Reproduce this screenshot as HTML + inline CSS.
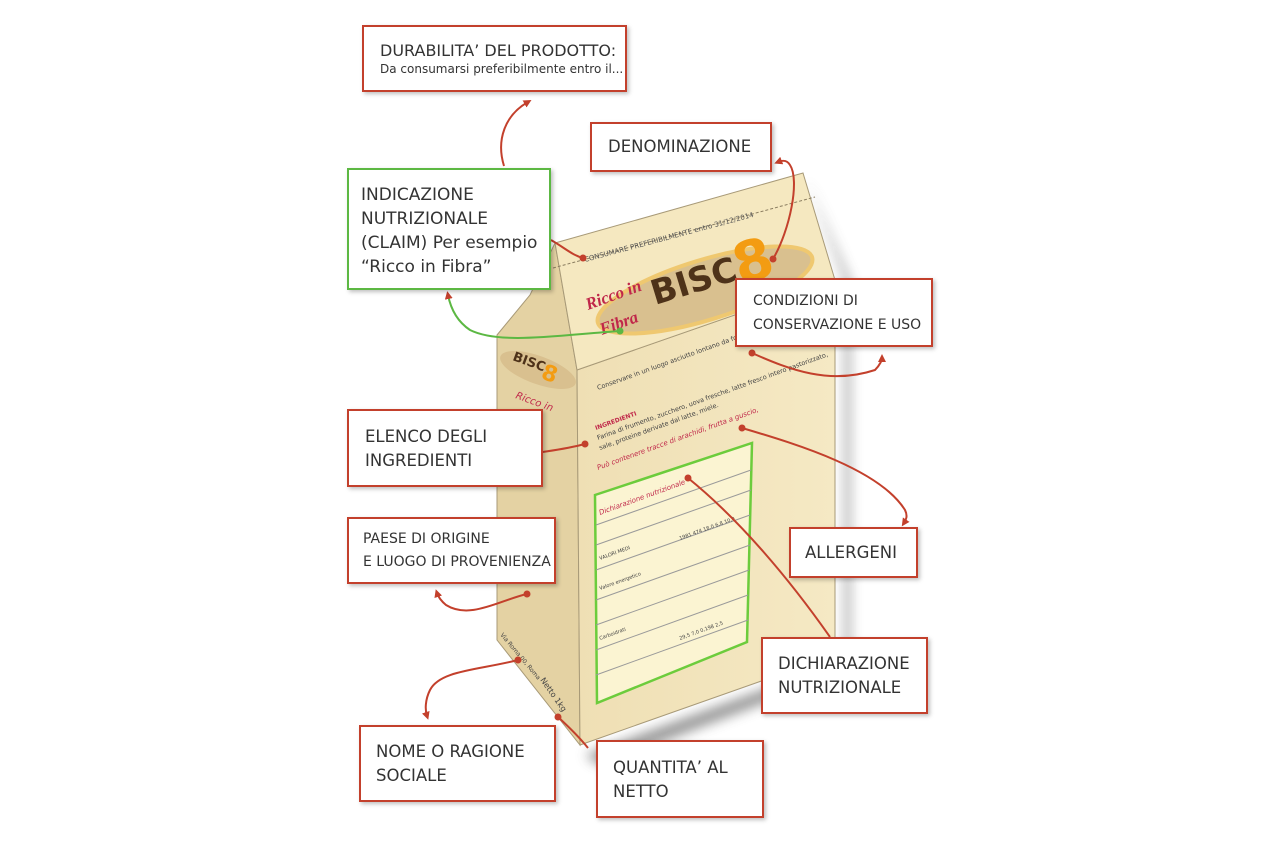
<!DOCTYPE html>
<html><head><meta charset="utf-8"><style>
html,body{margin:0;padding:0;background:#fff;}
body{width:1280px;height:848px;position:relative;overflow:hidden;font-family:"DejaVu Sans","Liberation Sans",sans-serif;color:#333;}
.b{position:absolute;background:#fff;border:2.5px solid #c3402c;box-sizing:border-box;box-shadow:2px 2px 4px rgba(0,0,0,0.25);font-size:16.5px;line-height:24px;padding-left:16px;}
.g{border-color:#5cb843;}
svg{position:absolute;left:0;top:0;}
</style></head><body>
<svg width="1280" height="848" viewBox="0 0 1280 848">
<defs>
<filter id="bl" x="-50%" y="-50%" width="200%" height="200%"><feGaussianBlur stdDeviation="6"/></filter>
<linearGradient id="fr" x1="0" y1="0" x2="1" y2="0"><stop offset="0" stop-color="#efdfb4"/><stop offset="1" stop-color="#f5e9c4"/></linearGradient>
<marker id="ar" viewBox="0 0 10 10" refX="5" refY="5" markerWidth="4" markerHeight="4" orient="auto"><path d="M0,0 L10,5 L0,10 z" fill="#c3402c"/></marker>
</defs>
<polygon points="806,178 845,280 845,660 585,755 600,765 850,670 850,280" fill="#777" filter="url(#bl)" opacity="0.8"/>
<polygon points="497,335 530,295 555,243 577,370 580,745 497,640" fill="#e4d2a3" stroke="#a89a78" stroke-width="1"/>
<polygon points="577,370 835,280 835,655 580,745" fill="url(#fr)" stroke="#a89a78" stroke-width="1"/>
<polygon points="555,243 803,173 835,280 577,370" fill="#f5e8c0" stroke="#a89a78" stroke-width="1"/>
<line x1="553" y1="268" x2="815" y2="197" stroke="#8a7d60" stroke-width="1" stroke-dasharray="3,2"/>
<text x="0" y="0" font-size="7" fill="#555" transform="translate(585,262) rotate(-15)">CONSUMARE PREFERIBILMENTE entro 31/12/2014</text>
<ellipse cx="705" cy="290" rx="112" ry="30" transform="rotate(-17 705 290)" fill="#d9c08f" stroke="#efc870" stroke-width="4"/>
<text x="0" y="0" font-size="34" font-weight="bold" fill="#4e3219" transform="translate(655,305) rotate(-17)">BISC</text>
<text x="0" y="0" font-size="56" font-weight="bold" fill="#f39c12" transform="translate(740,285) rotate(-17)">8</text>
<text x="0" y="0" font-size="17" font-style="italic" font-weight="bold" fill="#c0284a" font-family="Liberation Serif,serif" transform="translate(588,310) rotate(-20)">Ricco in</text>
<text x="0" y="0" font-size="17" font-style="italic" font-weight="bold" fill="#c0284a" font-family="Liberation Serif,serif" transform="translate(602,335) rotate(-20)">Fibra</text>
<ellipse cx="538" cy="370" rx="40" ry="14" transform="rotate(20 538 370)" fill="#d9c08f"/>
<text x="0" y="0" font-size="13" font-weight="bold" fill="#4e3219" transform="translate(512,360) rotate(20)">BISC</text>
<text x="0" y="0" font-size="22" font-weight="bold" fill="#f39c12" transform="translate(540,378) rotate(20)">8</text>
<text x="0" y="0" font-size="10" font-style="italic" fill="#c0284a" transform="translate(515,398) rotate(20)">Ricco in</text>
<text x="0" y="0" font-size="6.5" fill="#444" transform="translate(598,390) rotate(-20)">Conservare in un luogo asciutto lontano da fonti di calore.</text>
<text x="0" y="0" font-size="6.5" fill="#444" transform="translate(598,440) rotate(-20)">Farina di frumento, zucchero, uova fresche, latte fresco intero pastorizzato,</text>
<text x="0" y="0" font-size="6.5" fill="#444" transform="translate(600,450) rotate(-20)">sale, proteine derivate dal latte, miele.</text>
<text x="0" y="0" font-size="6" fill="#c0284a" font-weight="bold" transform="translate(596,430) rotate(-20)">INGREDIENTI</text>
<text x="0" y="0" font-size="7" fill="#c0284a" font-style="italic" transform="translate(598,470) rotate(-20)">Può contenere tracce di arachidi, frutta a guscio,</text>
<polygon points="595,495 752,443 747,642 597,703" fill="#fbf4d2" stroke="#6ccc3c" stroke-width="2.5"/>
<g stroke="#9a9a9a" stroke-width="1">
<line x1="596" y1="525" x2="751" y2="470"/>
<line x1="596" y1="545" x2="751" y2="490"/>
<line x1="596" y1="570" x2="750" y2="515"/>
<line x1="596" y1="600" x2="750" y2="545"/>
<line x1="596" y1="625" x2="749" y2="570"/>
<line x1="596" y1="650" x2="748" y2="595"/>
<line x1="596" y1="675" x2="748" y2="620"/>
</g>
<text x="0" y="0" font-size="7" fill="#c0284a" font-style="italic" transform="translate(600,515) rotate(-20)">Dichiarazione nutrizionale</text>
<text x="0" y="0" font-size="5" fill="#444" transform="translate(600,560) rotate(-20)">VALORI MEDI</text>
<text x="0" y="0" font-size="5" fill="#444" transform="translate(600,590) rotate(-20)">Valore energetico</text>
<text x="0" y="0" font-size="5" fill="#444" transform="translate(600,640) rotate(-20)">Carboidrati</text>
<text x="0" y="0" font-size="5" fill="#444" transform="translate(680,540) rotate(-20)">1981  474  18,0  6,8  10,0</text>
<text x="0" y="0" font-size="5" fill="#444" transform="translate(680,640) rotate(-20)">29,5  7,0  0,198  2,5</text>
<text x="0" y="0" font-size="6" fill="#444" transform="translate(500,635) rotate(50)">Via Roma 00, Roma</text>
<text x="0" y="0" font-size="8" fill="#444" transform="translate(540,680) rotate(55)">Netto 1kg</text>
<g fill="none" stroke="#c3402c" stroke-width="2">
<path d="M504,166 C496,140 505,115 528,102" marker-end="url(#ar)"/>
<path d="M551,240 C565,248 572,255 583,258"/>
<path d="M773,259 C790,230 800,180 790,165 C787,160 783,160 778,162" marker-end="url(#ar)"/>
<path d="M752,353 C790,370 830,385 875,370 C880,365 882,360 882,358" marker-end="url(#ar)"/>
<path d="M585,444 C570,448 556,450 543,452"/>
<path d="M742,428 C800,445 880,470 905,510 C908,516 906,520 904,523" marker-end="url(#ar)"/>
<path d="M688,478 C740,520 790,580 830,637"/>
<path d="M527,594 C500,600 470,620 446,605 C440,600 438,596 437,593" marker-end="url(#ar)"/>
<path d="M518,660 C480,670 440,670 430,690 C425,700 425,710 427,716" marker-end="url(#ar)"/>
<path d="M558,717 C570,728 580,738 588,748"/>
</g>
<path d="M620,331 C560,335 500,345 470,330 C455,320 450,305 448,295" fill="none" stroke="#5cb843" stroke-width="2" marker-end="url(#ar)"/>
<g fill="#c3402c">
<circle cx="583" cy="258" r="3.5"/><circle cx="773" cy="259" r="3.5"/><circle cx="752" cy="353" r="3.5"/>
<circle cx="585" cy="444" r="3.5"/><circle cx="742" cy="428" r="3.5"/><circle cx="688" cy="478" r="3.5"/>
<circle cx="527" cy="594" r="3.5"/><circle cx="518" cy="660" r="3.5"/><circle cx="558" cy="717" r="3.5"/>
</g>
<circle cx="620" cy="331" r="3.5" fill="#5cb843"/>
</svg>

<div class="b" style="left:362px;top:25px;width:265px;height:67px;padding-top:13px;"><div style="font-size:16px;line-height:22px">DURABILITA’ DEL PRODOTTO:</div><div style="font-size:12px;line-height:14px">Da consumarsi preferibilmente entro il...</div></div>
<div class="b" style="left:590px;top:122px;width:182px;height:50px;padding-top:11px;">DENOMINAZIONE</div>
<div class="b g" style="left:347px;top:168px;width:204px;height:122px;padding-top:13px;padding-left:12px;font-size:17px;line-height:24px;">INDICAZIONE<br>NUTRIZIONALE<br>(CLAIM) Per esempio<br>“Ricco in Fibra”</div>
<div class="b" style="left:735px;top:278px;width:198px;height:69px;padding-top:9px;padding-left:16px;font-size:14px;line-height:24px;">CONDIZIONI DI<br>CONSERVAZIONE E USO</div>
<div class="b" style="left:347px;top:409px;width:196px;height:78px;padding-top:14px;padding-left:16px;">ELENCO DEGLI<br>INGREDIENTI</div>
<div class="b" style="left:347px;top:517px;width:209px;height:67px;padding-top:9px;padding-left:14px;font-size:14px;line-height:23px;">PAESE DI ORIGINE<br>E LUOGO DI PROVENIENZA</div>
<div class="b" style="left:789px;top:527px;width:129px;height:51px;padding-top:12px;padding-left:14px;">ALLERGENI</div>
<div class="b" style="left:761px;top:637px;width:167px;height:77px;padding-top:13px;padding-left:15px;">DICHIARAZIONE<br>NUTRIZIONALE</div>
<div class="b" style="left:359px;top:725px;width:197px;height:77px;padding-top:13px;padding-left:15px;">NOME O RAGIONE<br>SOCIALE</div>
<div class="b" style="left:596px;top:740px;width:168px;height:78px;padding-top:14px;padding-left:15px;">QUANTITA’ AL<br>NETTO</div>
</body></html>
